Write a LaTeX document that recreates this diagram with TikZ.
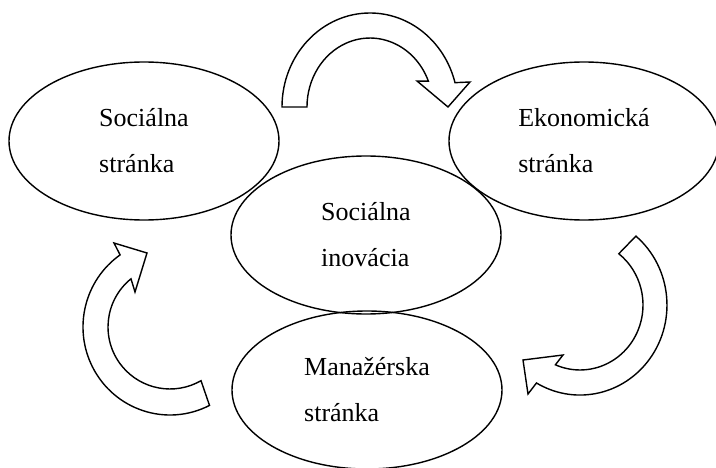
\documentclass[tikz,border=0pt]{standalone}
\usepackage{fontspec}
\setmainfont{Liberation Serif}
\usetikzlibrary{shapes}

\begin{document}
\begin{tikzpicture}[x=1pt,y=-1pt,
	oval/.style={draw,ellipse,line width=1.4pt,minimum width=270pt,minimum height=158pt,align=left,font=\fontsize{26}{46}\selectfont},
	bigarrow/.style={draw,line width=1.4pt,line join=miter,fill=white}]
	\useasboundingbox (0,0) rectangle (716,468);

	\node[oval] (SS) at (144,141) {Sociálna\\stránka};
	\node[oval] (ES) at (584,141) {Ekonomická\\stránka};
	\node[oval] (SI) at (366,235) {Sociálna\\inovácia};
	\node[oval] (MS) at (367,390) {Manažérska\\stránka};

	\draw[bigarrow] (282,107) arc[start angle=180,end angle=345,x radius=88,y radius=94]
		-- (470,82) -- (448,107) -- (417,81) -- (428.4,81.2)
		arc[start angle=338,end angle=180,x radius=63,y radius=69] -- cycle;

	\draw[bigarrow] (635.9,236.1) arc[start angle=-50,end angle=120,x radius=87,y radius=90]
		-- (528,394) -- (523,360) -- (563,355) -- (555.4,364.8)
		arc[start angle=113,end angle=-52,x radius=63,y radius=65] -- cycle;

	\draw[bigarrow] (209.5,405.4) arc[start angle=63,end angle=235,x radius=87,y radius=88]
		-- (114,243) -- (147,253) -- (135,292) -- (131,278.8)
		arc[start angle=231,end angle=60,x radius=62,y radius=62] -- cycle;
\end{tikzpicture}
\end{document}
